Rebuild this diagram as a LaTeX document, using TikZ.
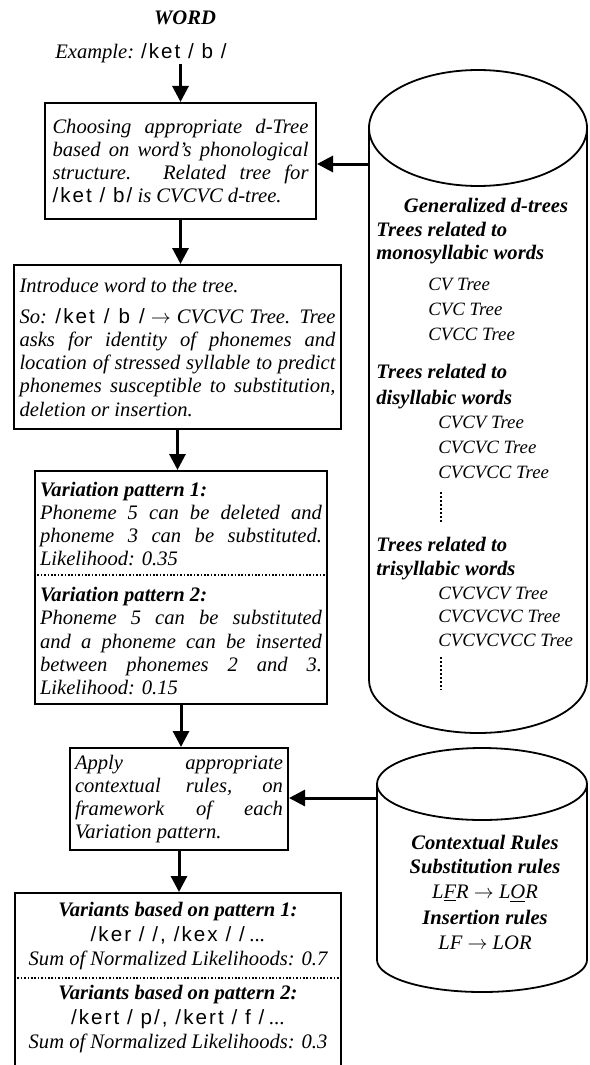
\documentclass[tikz,border=0pt]{standalone}
\usepackage{fontspec}
\setmainfont{Liberation Serif}
\newfontfamily\phonfont{Liberation Sans}[LetterSpace=10]
\usetikzlibrary{arrows.meta}
\newcommand{\fsz}{\fontsize{10.3}{11.6}\selectfont}
\newcommand{\ph}[1]{{\phonfont\upshape #1}}
\newcommand{\hd}[1]{{\bfseries\itshape #1}}
\tikzset{
  flowbox/.style={draw, line width=1pt, font=\fsz\itshape, align=justify, inner sep=0pt},
  txt/.style={font=\fsz\itshape, inner sep=0pt},
  bold txt/.style={font=\fsz\bfseries\itshape, inner sep=0pt},
  tree txt/.style={font=\fontsize{9.4}{11}\selectfont\itshape, inner sep=0pt},
  flow/.style={-{Triangle[length=8pt,width=8pt]}, line width=1.5pt},
  store/.style={line width=0.9pt},
  dotrule/.style={line width=0.8pt, dash pattern=on 0.8pt off 0.9pt},
  vdots/.style={line width=1.1pt, dash pattern=on 1pt off 1pt}
}

\begin{document}
\begin{tikzpicture}[x=0.5pt, y=-0.5pt]
  \path[use as bounding box, clip] (0,0) rectangle (589,1065);

  \node[bold txt, anchor=base] (word) at (185,25) {WORD};
  \node[txt, anchor=base] (ex) at (141,59) {Example: \ph{/ket / b /}};

  \node[flowbox, text width=128pt, minimum width=135.5pt, minimum height=58pt] (choose) at (180.5,161)
    {Choosing appropriate d-Tree\linebreak based on word's phonological\linebreak structure. Related tree for\linebreak \ph{/ket / b/} is CVCVC d-tree.};

  \node[flowbox, text width=158pt, minimum width=163.5pt, minimum height=82pt] (intro) at (177.5,347)
    {Introduce word to the tree.\par\vspace{4pt}
     So: \ph{/ket / b /} $\rightarrow$ CVCVC Tree. Tree\linebreak asks for identity of phonemes and\linebreak location of stressed syllable to predict\linebreak phonemes susceptible to substitution,\linebreak deletion or insertion.};

  \node[draw, line width=1pt, minimum width=146pt, minimum height=116.5pt] (vars) at (181,587.5) {};
  \node[flowbox, draw=none, text width=141pt] (pat1) at (181,524)
    {\hd{Variation pattern 1:}\par Phoneme 5 can be deleted and\linebreak phoneme 3 can be substituted.\linebreak Likelihood: 0.35};
  \node[flowbox, draw=none, text width=141pt] (pat2) at (181,641)
    {\hd{Variation pattern 2:}\par Phoneme 5 can be substituted\linebreak and a phoneme can be inserted\linebreak between phonemes 2 and 3.\linebreak Likelihood: 0.15};
  \coordinate (cut1) at (181,575);
  \draw[dotrule] (vars.west |- cut1) -- (vars.east |- cut1);

  \node[flowbox, text width=104pt, minimum width=109pt, minimum height=51pt] (apply) at (179,799)
    {Apply appropriate\linebreak contextual rules, on\linebreak framework of each\linebreak Variation pattern.};

  \node[draw, line width=1pt, minimum width=163pt, minimum height=98.5pt] (res) at (178,991.5) {};
  \node[txt, align=center] (var1) at (178,936)
    {\hd{Variants based on pattern 1:}\\[1pt] \ph{/ker / /, /kex / /} ...\\ Sum of Normalized Likelihoods: 0.7};
  \node[txt, align=center] (var2) at (178,1019)
    {\hd{Variants based on pattern 2:}\\[1pt] \ph{/kert / p/, /kert / f /} ...\\ Sum of Normalized Likelihoods: 0.3};
  \coordinate (cut2) at (178,978);
  \draw[dotrule] (res.west |- cut2) -- (res.east |- cut2);

  \draw[flow] (ex.south -| choose.north) -- (choose.north);
  \draw[flow] (choose.south) -- (choose.south |- intro.north);
  \draw[flow] (intro.south) -- (intro.south |- vars.north);
  \draw[flow] (vars.south) -- (vars.south |- apply.north);
  \draw[flow] (apply.south) -- (apply.south |- res.north);

  % d-tree store
  \draw[store] (478,128) ellipse [x radius=54.5pt, y radius=29pt];
  \draw[store] (369,128) -- (369,680) arc [start angle=180, end angle=360, x radius=54.5pt, y radius=26.5pt] -- (587,128);
  \node[bold txt, anchor=base] (gen) at (486,212) {Generalized d-trees};
  \foreach \t/\y [count=\i] in {Trees related to/236, monosyllabic words/259, Trees related to/378,
      disyllabic words/404, Trees related to/551, trisyllabic words/575}
    \node[bold txt, anchor=base west] (head\i) at (376,\y) {\t};
  \foreach \t/\y [count=\i] in {CV Tree/290, CVC Tree/315, CVCC Tree/340}
    \node[tree txt, anchor=base west] (mono\i) at (428,\y) {\t};
  \foreach \t/\y [count=\i] in {CVCV Tree/428, CVCVC Tree/453, CVCVCC Tree/478}
    \node[tree txt, anchor=base west] (di\i) at (438,\y) {\t};
  \foreach \t/\y [count=\i] in {CVCVCV Tree/599, CVCVCVC Tree/622, CVCVCVCC Tree/646}
    \node[tree txt, anchor=base west] (tri\i) at (438,\y) {\t};
  \draw[vdots] (441,492) -- (441,522);
  \draw[vdots] (441,657) -- (441,690);

  % rule store
  \draw[store] (482,784) ellipse [x radius=52.5pt, y radius=18pt];
  \draw[store] (377,784) -- (377,960) arc [start angle=180, end angle=360, x radius=52.5pt, y radius=16pt] -- (587,784);
  \node[bold txt, anchor=base] (ctx) at (485,849) {Contextual Rules};
  \node[bold txt, anchor=base] (sub) at (485,873) {Substitution rules};
  \node[txt, anchor=base] (subrule) at (485,898) {L\underline{F}R $\rightarrow$ L\underline{O}R};
  \node[bold txt, anchor=base] (ins) at (485,924) {Insertion rules};
  \node[txt, anchor=base] (insrule) at (485,949) {LF $\rightarrow$ LOR};

  \coordinate (trees) at (369,164);
  \draw[flow] (trees) -- (trees -| choose.east);
  \coordinate (rules) at (377,798);
  \draw[flow] (rules) -- (rules -| apply.east);
\end{tikzpicture}
\end{document}
